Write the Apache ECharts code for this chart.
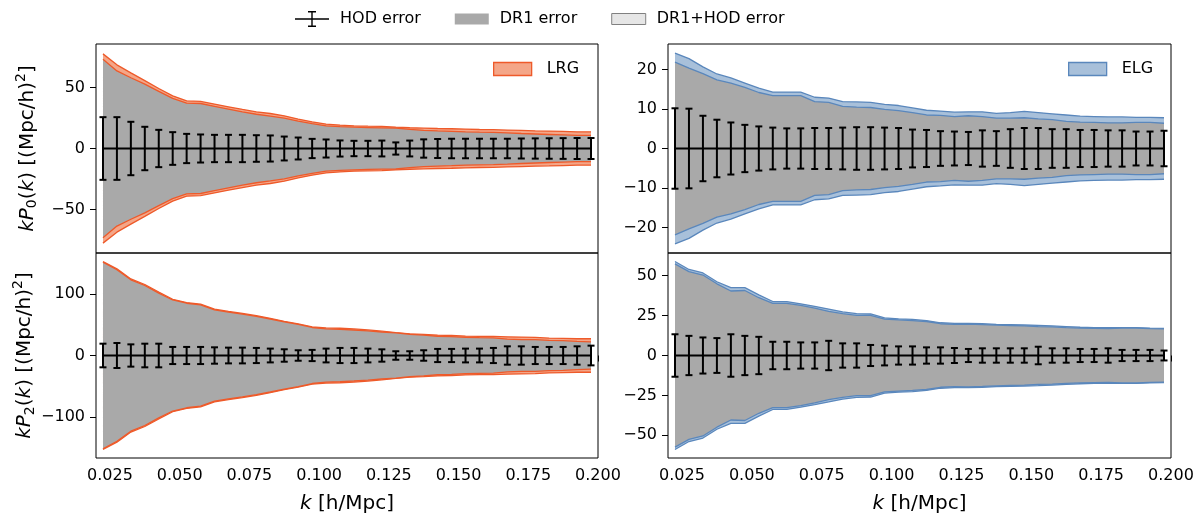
<!DOCTYPE html>
<html>
<head>
<meta charset="utf-8">
<script src="https://cdn.jsdelivr.net/npm/echarts@6/dist/echarts.min.js"></script>
<style>
  html, body { margin: 0; padding: 0; background: #fff; }
  #main { width: 1202px; height: 515px; }
</style>
</head>
<body>
<div id="main"></div>
<script>
// k bins [h/Mpc]
const kValues = [0.0225, 0.0275, 0.0325, 0.0375, 0.0425, 0.0475, 0.0525, 0.0575, 0.0625, 0.0675,
  0.0725, 0.0775, 0.0825, 0.0875, 0.0925, 0.0975, 0.1025, 0.1075, 0.1125, 0.1175,
  0.1225, 0.1275, 0.1325, 0.1375, 0.1425, 0.1475, 0.1525, 0.1575, 0.1625, 0.1675,
  0.1725, 0.1775, 0.1825, 0.1875, 0.1925, 0.1975]

// LRG monopole
const lrgP0Hod = [25.7, 25.7, 21.9, 17.8, 15.3, 13.4, 12.0, 11.5, 11.2, 11.2, 11.2, 10.9, 10.7, 9.8, 9.0, 7.9, 7.4, 6.6,
  6.3, 6.3, 6.5, 5.0, 6.5, 7.5, 7.8, 8.0, 8.0, 8.0, 8.0, 8.0, 8.2, 8.3, 8.4, 8.5, 8.6, 8.6]
const lrgP0Dr1 = [73.2, 63.6, 58.0, 52.8, 46.8, 41.1, 37.2, 36.9, 34.6, 32.3, 30.0, 28.1, 26.6, 24.9, 22.4, 20.4, 18.6, 18.0,
  17.5, 17.2, 16.9, 16.8, 15.7, 14.9, 14.4, 14.1, 13.7, 13.4, 13.2, 12.8, 12.3, 11.9, 11.5, 11.1, 10.7, 10.7]
const lrgP0Tot = [77.6, 68.6, 62.0, 55.7, 49.2, 43.2, 39.1, 38.6, 36.4, 34.2, 32.0, 30.1, 28.7, 26.8, 24.1, 21.9, 20.0, 19.2,
  18.6, 18.3, 18.1, 17.5, 17.0, 16.7, 16.4, 16.2, 15.9, 15.6, 15.4, 15.1, 14.8, 14.5, 14.3, 14.0, 13.7, 13.7]

// ELG monopole
const elgP0Hod = [10.2, 10.1, 8.3, 7.3, 6.6, 6.0, 5.6, 5.3, 5.1, 5.1, 5.2, 5.2, 5.3, 5.4, 5.4, 5.3, 5.2, 4.8,
  4.7, 4.4, 4.3, 4.2, 4.6, 4.4, 4.9, 5.2, 5.2, 4.9, 4.9, 4.7, 4.7, 4.6, 4.6, 4.3, 4.3, 4.5]
const elgP0Dr1 = [21.9, 20.4, 19.0, 17.4, 16.6, 15.5, 14.2, 13.4, 13.4, 13.4, 11.9, 11.7, 10.7, 10.5, 10.4, 9.9, 9.6, 9.1,
  8.5, 8.4, 8.1, 8.3, 8.1, 7.7, 7.7, 7.8, 7.5, 7.3, 6.9, 6.7, 6.6, 6.5, 6.5, 6.6, 6.6, 6.4]
const elgP0Tot = [24.2, 22.8, 20.7, 18.9, 17.9, 16.6, 15.3, 14.3, 14.3, 14.3, 13.0, 12.8, 11.9, 11.8, 11.7, 11.2, 10.9, 10.3,
  9.7, 9.5, 9.2, 9.3, 9.3, 8.9, 9.1, 9.4, 9.1, 8.8, 8.5, 8.2, 8.1, 8.0, 8.0, 7.9, 7.9, 7.8]

// LRG quadrupole
const lrgP2Hod = [19.2, 20.3, 18.1, 19.2, 19.2, 13.9, 13.9, 13.9, 13.3, 12.8, 12.8, 12.3, 11.2, 10.1, 8.5, 9.1, 11.2, 12.3,
  12.3, 11.2, 10.0, 6.9, 6.9, 8.5, 10.7, 10.7, 11.2, 11.2, 12.3, 14.9, 14.9, 13.9, 13.9, 13.9, 14.9, 16.0]
const lrgP2Dr1 = [151.4, 139.3, 123.0, 113.7, 101.3, 90.2, 84.9, 82.1, 74.1, 70.3, 67.1, 63.4, 59.3, 54.6, 50.5, 45.5, 43.4, 42.6,
  41.4, 40.1, 38.2, 36.6, 34.5, 33.1, 31.3, 30.7, 29.4, 28.9, 28.5, 26.5, 25.9, 25.9, 24.7, 24.0, 22.8, 22.0]
const lrgP2Tot = [152.6, 140.8, 124.3, 115.3, 103.1, 91.3, 86.0, 83.3, 75.3, 71.5, 68.3, 64.6, 60.3, 55.5, 51.2, 46.4, 44.8, 44.3,
  43.2, 41.6, 39.5, 37.3, 35.2, 34.2, 33.1, 32.5, 31.5, 31.0, 31.0, 30.4, 29.9, 29.4, 28.3, 27.7, 27.2, 27.2]

// ELG quadrupole
const elgP2Hod = [13.3, 12.3, 11.3, 10.9, 13.3, 12.3, 11.7, 8.6, 8.6, 8.2, 8.2, 9.2, 7.6, 7.6, 6.6, 6.2, 5.7, 5.7,
  5.1, 5.1, 4.7, 4.1, 4.5, 4.5, 4.5, 4.5, 5.5, 4.5, 4.5, 4.1, 4.1, 4.5, 3.5, 3.5, 3.5, 3.1]
const elgP2Dr1 = [57.4, 52.5, 50.4, 44.9, 40.4, 40.7, 36.2, 32.7, 32.7, 31.4, 29.7, 27.6, 26.2, 25.1, 25.1, 22.8, 22.3, 21.9,
  21.3, 19.9, 19.5, 19.7, 19.4, 19.0, 18.8, 18.6, 18.1, 17.9, 17.5, 17.2, 17.0, 16.9, 17.1, 17.1, 16.8, 16.7]
const elgP2Tot = [58.9, 53.9, 51.7, 46.2, 42.5, 42.5, 38.0, 33.8, 33.8, 32.4, 30.8, 29.1, 27.3, 26.2, 26.0, 23.6, 23.0, 22.6,
  21.9, 20.5, 20.1, 20.1, 19.9, 19.5, 19.3, 19.1, 18.9, 18.5, 18.1, 17.7, 17.5, 17.5, 17.5, 17.5, 17.2, 17.0]

// tick labels
const kTicks = [0.025, 0.05, 0.075, 0.1, 0.125, 0.15, 0.175, 0.2]
const lrgP0Ticks = [-50, 0, 50]
const elgP0Ticks = [-20, -10, 0, 10, 20]
const lrgP2Ticks = [-100, 0, 100]
const elgP2Ticks = [-50, -25, 0, 25, 50]

const FONT = 'DejaVu Sans'
const GRAY = '#a9a9a9'
const tracers = {
  LRG: { face: '#f4a688', edge: '#ee5a2a' },
  ELG: { face: '#a8c0da', edge: '#5a87bc' }
}

const richName = {
  it: { fontStyle: 'italic', fontSize: 20, fontFamily: FONT, color: '#000' },
  n: { fontSize: 20, fontFamily: FONT, color: '#000' },
  sub: { fontSize: 14, fontFamily: FONT, color: '#000', padding: [10, 0, 0, 0] },
  sup: { fontSize: 14, fontFamily: FONT, color: '#000', padding: [0, 0, 13, 0] }
}

// 四个子图
const panels = [
  { tracer: 'LRG', pos: { left: 96, top: 44 }, lim: 85.7, ticks: lrgP0Ticks, hod: lrgP0Hod, dr1: lrgP0Dr1, tot: lrgP0Tot, bottom: false, ell: 0 },
  { tracer: 'ELG', pos: { left: 668, top: 44 }, lim: 26.5, ticks: elgP0Ticks, hod: elgP0Hod, dr1: elgP0Dr1, tot: elgP0Tot, bottom: false },
  { tracer: 'LRG', pos: { left: 96, top: 253 }, lim: 166.5, ticks: lrgP2Ticks, hod: lrgP2Hod, dr1: lrgP2Dr1, tot: lrgP2Tot, bottom: true, ell: 2 },
  { tracer: 'ELG', pos: { left: 668, top: 253 }, lim: 64.2, ticks: elgP2Ticks, hod: elgP2Hod, dr1: elgP2Dr1, tot: elgP2Tot, bottom: true }
]

function renderErrorBar(params, api) {
  const k = api.value(0)
  const e = api.value(1)
  const top = api.coord([k, e])
  const bot = api.coord([k, -e])
  const cap = 3.5
  const style = { stroke: '#000', lineWidth: 2 }
  return {
    type: 'group',
    children: [
      { type: 'line', shape: { x1: top[0], y1: top[1], x2: bot[0], y2: bot[1] }, style },
      { type: 'line', shape: { x1: top[0] - cap, y1: top[1], x2: top[0] + cap, y2: top[1] }, style },
      { type: 'line', shape: { x1: bot[0] - cap, y1: bot[1], x2: bot[0] + cap, y2: bot[1] }, style }
    ]
  }
}

const minus = v => String(v).replace('-', '\u2212')

const grid = []
const xAxis = []
const yAxis = []
const series = []

panels.forEach((p, i) => {
  const c = tracers[p.tracer]
  grid.push({ left: p.pos.left, top: p.pos.top, width: p.pos.left < 300 ? 502 : 503, height: 209, show: true, borderColor: '#000', borderWidth: 1, backgroundColor: 'transparent' })
  xAxis.push({
    type: 'value', gridIndex: i, min: 0.02, max: 0.2,
    axisLine: { show: false },
    splitLine: { show: false },
    axisTick: { show: p.bottom, length: 6, lineStyle: { color: '#000' }, customValues: kTicks },
    axisLabel: { show: p.bottom, customValues: kTicks, margin: 10, fontSize: 16, fontFamily: FONT, color: '#000', formatter: v => v.toFixed(3) },
    name: p.bottom ? '{it|k}{n| [h/Mpc]}' : '',
    nameLocation: 'middle', nameGap: 36,
    nameTextStyle: { rich: richName }
  })
  yAxis.push({
    type: 'value', gridIndex: i, min: -p.lim, max: p.lim,
    axisLine: { show: false },
    splitLine: { show: false },
    axisTick: { show: true, length: 6, lineStyle: { color: '#000' }, customValues: p.ticks },
    axisLabel: { customValues: p.ticks, margin: 11, fontSize: 16, fontFamily: FONT, color: '#000', formatter: minus },
    name: p.ell === undefined ? '' : '{it|kP}{sub|' + p.ell + '}{n|(}{it|k}{n|) [(Mpc/h)}{sup|2}{n|]}',
    nameLocation: 'middle', nameRotate: 90, nameGap: 55,
    nameTextStyle: { rich: richName }
  })

  const band = (name, vals, sign, fill, z) => ({
    name, type: 'line', xAxisIndex: i, yAxisIndex: i,
    data: kValues.map((k, j) => [k, sign * vals[j]]),
    symbol: 'none', silent: true, z,
    lineStyle: { color: c.edge, width: 1.3 },
    itemStyle: { color: fill },
    areaStyle: { color: fill, opacity: 1 }
  })
  series.push(band(p.tracer, p.tot, 1, c.face, 1))
  series.push(band(p.tracer, p.tot, -1, c.face, 1))
  series.push(band('DR1 error', p.dr1, 1, GRAY, 2))
  series.push(band('DR1 error', p.dr1, -1, GRAY, 2))
  series.push({
    name: 'HOD error', type: 'line', xAxisIndex: i, yAxisIndex: i,
    data: kValues.map(k => [k, 0]), symbol: 'none', silent: true, z: 4,
    lineStyle: { color: '#000', width: 2 }, itemStyle: { color: '#000' }
  })
  series.push({
    name: 'HOD error', type: 'custom', xAxisIndex: i, yAxisIndex: i,
    data: kValues.map((k, j) => [k, p.hod[j]]),
    renderItem: renderErrorBar, silent: true, z: 5, clip: false
  })
})
series.push({ name: 'DR1+HOD error', type: 'line', data: [], itemStyle: { color: '#e6e6e6' } })

const errIcon = 'path://M0,7.3H34V8.7H0Z M16.3,1H17.7V15H16.3Z M13,0H21V1.4H13Z M13,14.6H21V16H13Z'
const boxIcon = 'path://M0,0H34V11H0Z'

const chart = echarts.init(document.getElementById('main'))
chart.setOption({
  animation: false,
  backgroundColor: '#fff',
  grid, xAxis, yAxis, series,
  legend: [
    {
      left: 295, top: 11, padding: 0, itemWidth: 34, itemHeight: 16, itemGap: 34, selectedMode: false,
      textStyle: { fontSize: 16, fontFamily: FONT, color: '#000', padding: [0, 0, 0, 6] },
      data: [
        { name: 'HOD error', icon: errIcon, itemStyle: { color: '#000', borderWidth: 0 } },
        { name: 'DR1 error', icon: boxIcon, itemStyle: { color: GRAY, borderWidth: 0 } },
        { name: 'DR1+HOD error', icon: boxIcon, itemStyle: { color: '#e6e6e6', borderColor: '#808080', borderWidth: 1 } }
      ]
    },
    {
      left: 493, top: 61, padding: 0, itemWidth: 38, itemHeight: 13, selectedMode: false,
      textStyle: { fontSize: 16, fontFamily: FONT, color: '#000', padding: [0, 0, 0, 10] },
      data: [{ name: 'LRG', icon: 'rect', itemStyle: { color: tracers.LRG.face, borderColor: tracers.LRG.edge, borderWidth: 1.3 } }]
    },
    {
      left: 1068, top: 61, padding: 0, itemWidth: 38, itemHeight: 13, selectedMode: false,
      textStyle: { fontSize: 16, fontFamily: FONT, color: '#000', padding: [0, 0, 0, 10] },
      data: [{ name: 'ELG', icon: 'rect', itemStyle: { color: tracers.ELG.face, borderColor: tracers.ELG.edge, borderWidth: 1.3 } }]
    }
  ]
})
</script>
</body>
</html>
